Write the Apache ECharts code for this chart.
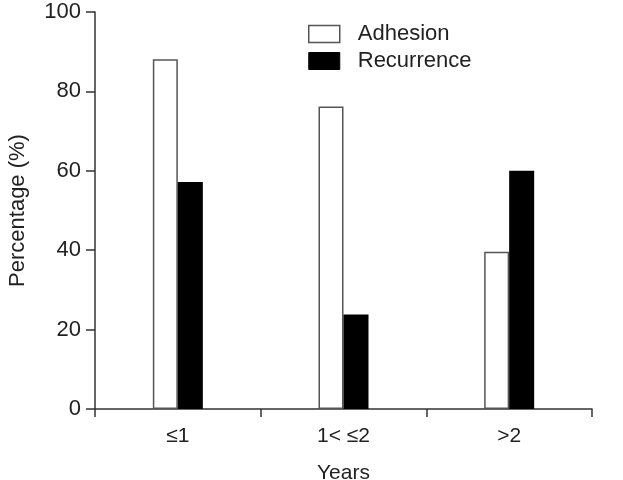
<!DOCTYPE html>
<html>
<head>
<meta charset="utf-8">
<script src="https://cdn.jsdelivr.net/npm/echarts@6/dist/echarts.min.js"></script>
<style>
  html, body { margin: 0; padding: 0; background: #fff; }
  #chart { width: 623px; height: 480px; }
</style>
</head>
<body>
<div id="chart"></div>
<script>
// 数据
var categories = ['\u22641', '1< \u22642', '>2']
var adhesion = [88.1, 76.2, 39.6]
var recurrence = [57.2, 23.8, 60.0]
var yTicks = [0, 20, 40, 60, 80, 100]

var font = 'Liberation Sans, Arial, sans-serif'
var textColor = '#222'
var lineColor = '#333'
var fs = 22

var chart = echarts.init(document.getElementById('chart'))
chart.setOption({
  animation: false,
  textStyle: { fontFamily: font },
  grid: { // 图表位置
    left: 95,
    right: 31,
    top: 12,
    bottom: 71,
    outerBoundsMode: 'none'
  },
  legend: {
    orient: 'vertical',
    left: 303,
    top: 18,
    icon: 'rect',
    itemWidth: 31,
    itemHeight: 17,
    itemGap: 5,
    textStyle: { fontSize: fs, color: textColor, fontFamily: font, padding: [0, 0, 0, 13] },
    data: [
      { name: 'Adhesion', itemStyle: { color: '#fff', borderColor: '#555', borderWidth: 1.5 } },
      { name: 'Recurrence', itemStyle: { color: '#000', borderColor: '#000', borderWidth: 1 } }
    ]
  },
  xAxis: {
    type: 'category',
    data: categories,
    name: 'Years',
    nameLocation: 'middle',
    nameGap: 54,
    nameTextStyle: { fontSize: fs - 1, color: textColor, fontFamily: font },
    axisLine: { lineStyle: { color: lineColor, width: 1.5 } },
    axisTick: { show: true, length: 8, lineStyle: { color: lineColor, width: 1.5 } },
    axisLabel: { fontSize: fs - 1, color: textColor, margin: 17, fontFamily: font }
  },
  yAxis: {
    type: 'value',
    min: yTicks[0],
    max: yTicks[yTicks.length - 1],
    interval: yTicks[1] - yTicks[0],
    name: 'Percentage (%)',
    nameLocation: 'middle',
    nameGap: 66,
    nameTextStyle: { fontSize: fs, color: textColor, fontFamily: font },
    axisLine: { show: true, lineStyle: { color: lineColor, width: 1.5 } },
    axisTick: { show: true, length: 9, lineStyle: { color: lineColor, width: 1.5 } },
    axisLabel: { fontSize: fs, color: textColor, margin: 14, fontFamily: font },
    splitLine: { show: false }
  },
  series: [
    {
      name: 'Adhesion',
      type: 'bar',
      data: adhesion,
      barWidth: 25,
      barGap: '0%',
      itemStyle: { color: '#fff', borderColor: '#555', borderWidth: 1.5 }
    },
    {
      name: 'Recurrence',
      type: 'bar',
      data: recurrence,
      barWidth: 25,
      itemStyle: { color: '#000' }
    }
  ]
})
</script>
</body>
</html>
